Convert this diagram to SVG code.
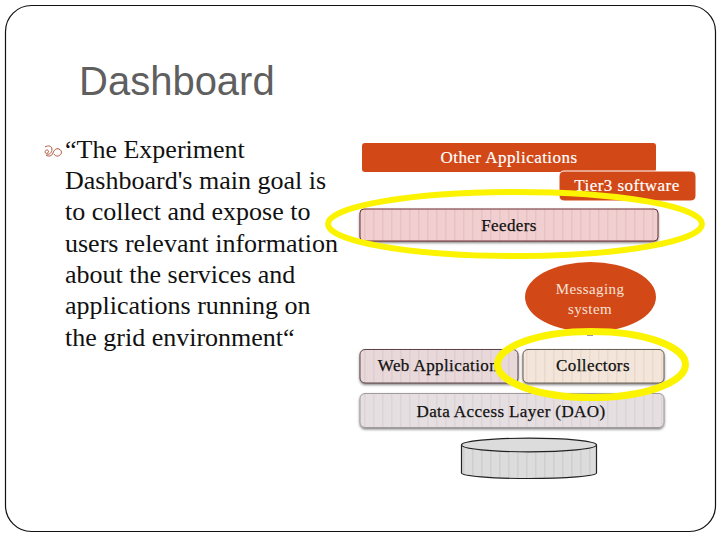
<svg xmlns="http://www.w3.org/2000/svg" width="720" height="540" viewBox="0 0 720 540">
<style>
.body{font:26px "Liberation Serif",serif;fill:#111}
.lbl{font:17px "Liberation Serif",serif;fill:#111;stroke:#111;stroke-width:.25;text-anchor:middle;letter-spacing:.4px}
.wht{font:17px "Liberation Serif",serif;fill:#fff;stroke:#fff;stroke-width:.2;text-anchor:middle;letter-spacing:.45px}
.msg{font:15px "Liberation Serif",serif;fill:#f6e3d8;text-anchor:middle;letter-spacing:.4px}
.org{fill:#d34817}
.box{stroke-width:1;filter:url(#sh)}
.ring{fill:none;stroke:#fbf300}
</style>
<defs>
<filter id="sh" x="-5%" y="-10%" width="110%" height="130%"><feDropShadow dx="0" dy="1.5" stdDeviation="1" flood-color="#333" flood-opacity=".6"/></filter>
<pattern id="p1" width="9" height="10" patternUnits="userSpaceOnUse"><rect width="9" height="10" fill="#f1cfd0"/><rect x="4" width="1.5" height="10" fill="#e7c1c3"/></pattern>
<pattern id="p2" width="9" height="10" patternUnits="userSpaceOnUse"><rect width="9" height="10" fill="#e8d8da"/><rect x="4" width="1.5" height="10" fill="#dfcdcf"/></pattern>
<pattern id="p3" width="9" height="10" patternUnits="userSpaceOnUse"><rect width="9" height="10" fill="#f3e5d9"/><rect x="4" width="1.5" height="10" fill="#eadace"/></pattern>
<pattern id="p4" width="9" height="10" patternUnits="userSpaceOnUse"><rect width="9" height="10" fill="#e6dfe2"/><rect x="4" width="1.5" height="10" fill="#dcd4d7"/></pattern>
<pattern id="p5" width="9" height="10" patternUnits="userSpaceOnUse"><rect width="9" height="10" fill="#dcdcdc"/><rect x="4" width="1.5" height="10" fill="#cfcfcf"/></pattern>
</defs>
<rect width="720" height="540" fill="#fff"/>
<rect id="frame" x="5.5" y="5.5" width="710" height="526" rx="26" fill="#fff" stroke="#111" stroke-width="1.2"/>
<text id="title" x="79" y="95" style="font:40px 'Liberation Sans',sans-serif;fill:#5f5f5f">Dashboard</text>
<g id="quote">
<path d="M45 147c3-2 7-1 7 2 0 4-3 6-5 5-3-1-2-4 0-4 2 0 2 3 0 3M46 155c3 2 6 1 7-2 1-3 3-5 6-4 3 1 3 5 1 6-2 2-5 1-6-1" fill="none" stroke="#b0553a" stroke-width="1"/>
<text class="body" x="65" y="158">“The Experiment</text>
<text class="body" x="65" y="189">Dashboard's main goal is</text>
<text class="body" x="65" y="220">to collect and expose to</text>
<text class="body" x="65" y="252">users relevant information</text>
<text class="body" x="65" y="283">about the services and</text>
<text class="body" x="65" y="314">applications running on</text>
<text class="body" x="65" y="346">the grid environment“</text>
</g>
<g id="connectors"><rect x="587" y="334" width="6" height="1.5" fill="#333"/></g>
<g id="other-applications"><rect class="org" x="362" y="143" width="294" height="29" rx="3"/><text class="wht" x="509" y="163">Other Applications</text></g>
<g id="tier3"><rect class="org" x="559" y="171" width="137" height="30" rx="5" stroke="#fff" stroke-width="1"/><text class="wht" x="627" y="191">Tier3 software</text></g>
<g id="feeders"><rect class="box" x="360" y="209" width="298" height="32" rx="4" fill="url(#p1)" stroke="#6d2f33"/><text class="lbl" x="509" y="231">Feeders</text></g>
<g id="messaging"><ellipse class="org" cx="590.500" cy="297" rx="65.500" ry="35"/><text class="msg" x="590" y="294">Messaging</text><text class="msg" x="590" y="314">system</text></g>
<g id="web-application"><rect class="box" x="360" y="349.500" width="158" height="33.500" rx="5" fill="url(#p2)" stroke="#5d4548"/><text class="lbl" x="438" y="371">Web Application</text></g>
<g id="collectors"><rect class="box" x="523" y="349.500" width="141" height="33.500" rx="5" fill="url(#p3)" stroke="#6a6055"/><text class="lbl" x="593" y="371">Collectors</text></g>
<g id="dao"><rect class="box" x="360" y="393.500" width="304" height="34" rx="5" fill="url(#p4)" stroke="#a09a9c"/><text class="lbl" x="511" y="417">Data Access Layer (DAO)</text></g>
<g id="database"><path d="M461.500 445v28c0 3 30 5.500 67.500 5.500s67.500-2.500 67.500-5.500v-28z" fill="url(#p5)" stroke="#222" stroke-width="1.200"/><ellipse cx="529" cy="445" rx="67.500" ry="6.800" fill="#dcdcdc" stroke="#222" stroke-width="1.200"/></g>
<g id="highlights"><ellipse class="ring" cx="515" cy="224" rx="187" ry="32" stroke-width="6"/><ellipse class="ring" cx="591.500" cy="364.500" rx="94" ry="33" stroke-width="7"/></g>
</svg>
